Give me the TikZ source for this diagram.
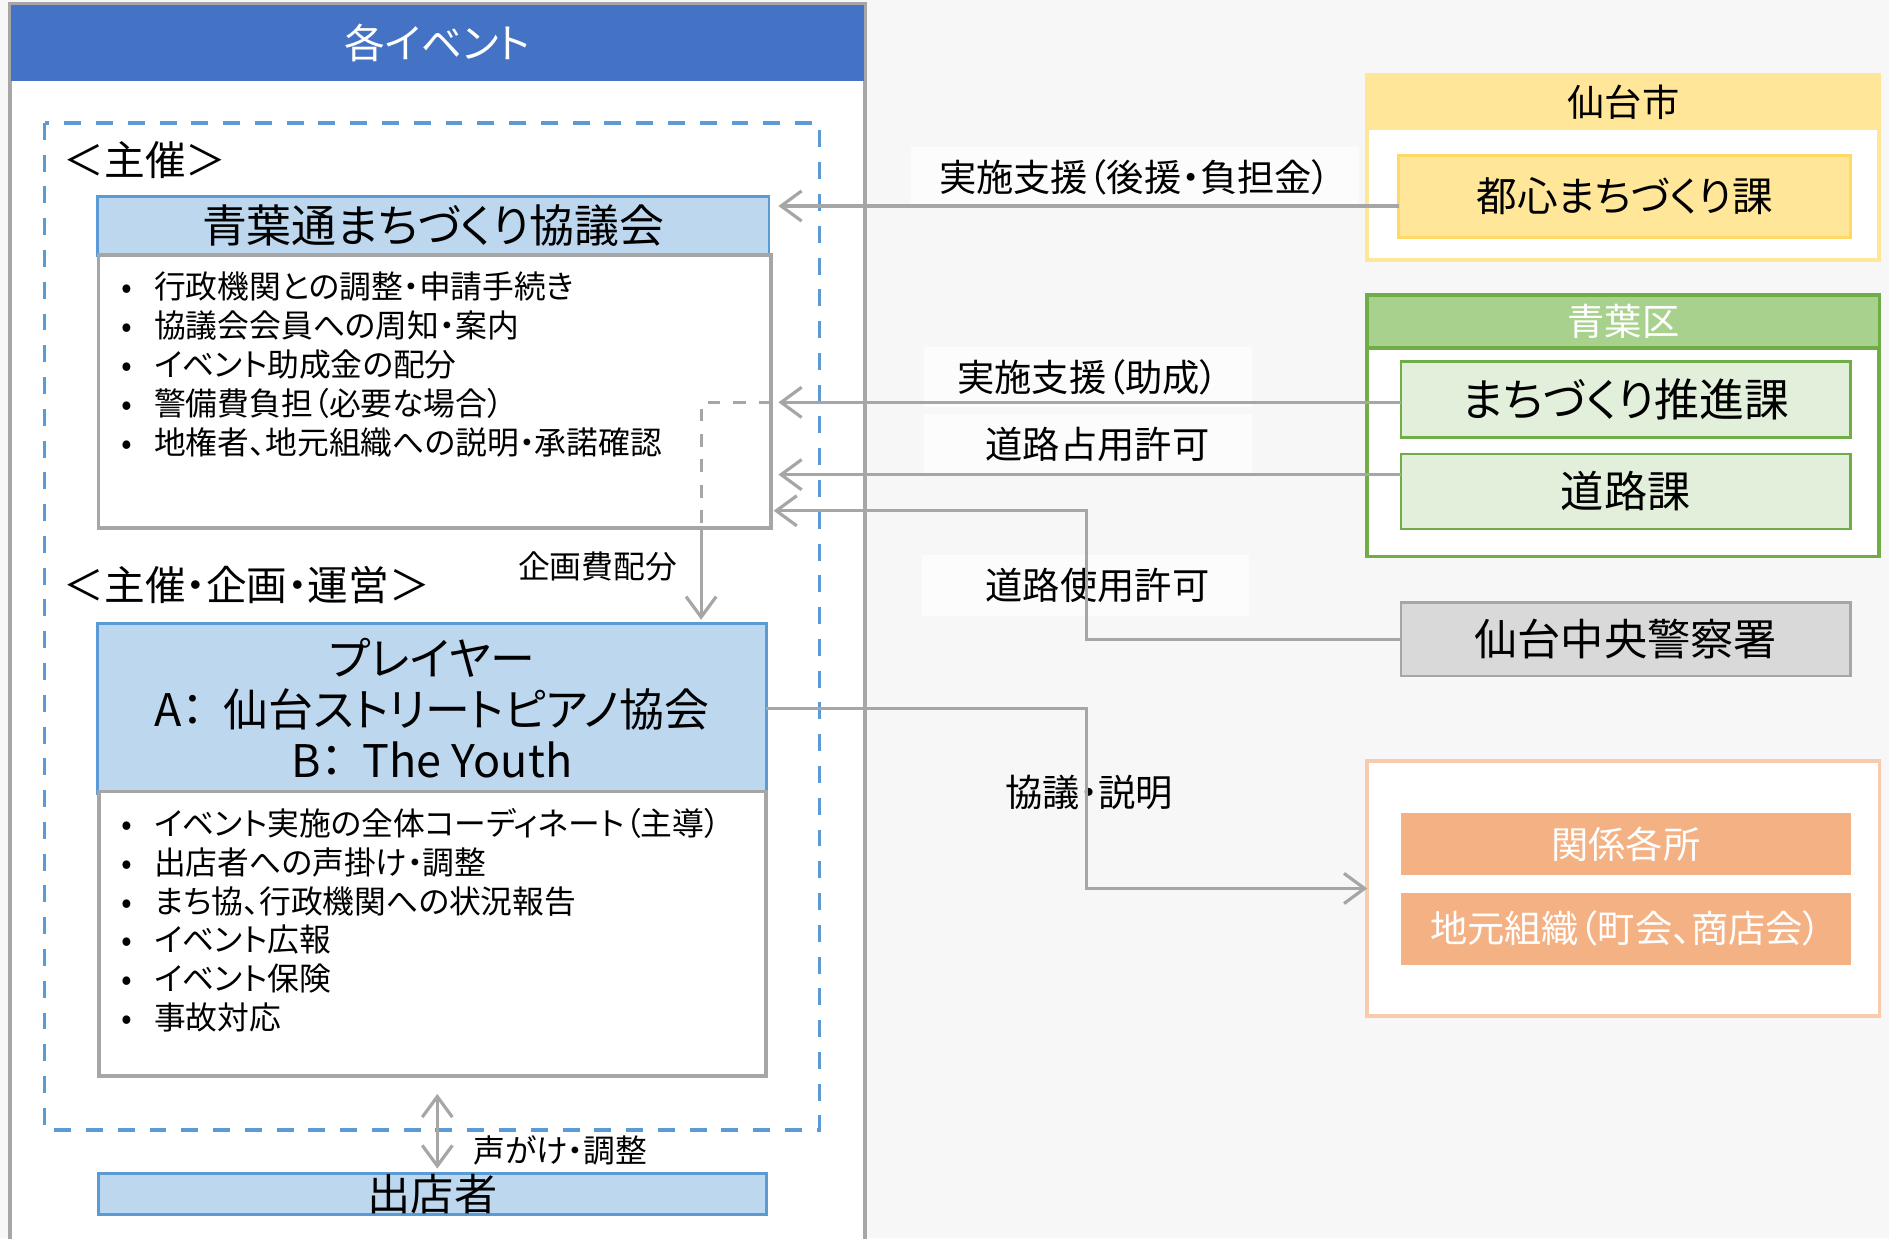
\documentclass[tikz,border=0pt]{standalone}
\usepackage{fontspec}
\setmainfont{Noto Sans CJK JP}[RawFeature=+palt]
\usepackage{xcolor}
\usetikzlibrary{arrows.meta,calc}

\definecolor{bgcol}{HTML}{F7F7F7}
\definecolor{grayline}{HTML}{A6A6A6}
\definecolor{evtblue}{HTML}{4472C4}
\definecolor{dashblue}{HTML}{5B9BD5}
\definecolor{hdrfill}{HTML}{BDD7EE}
\definecolor{cityhdr}{HTML}{FFE699}
\definecolor{cityline}{HTML}{FFD966}
\definecolor{wardline}{HTML}{70AD47}
\definecolor{wardhdr}{HTML}{A9D18E}
\definecolor{wardfill}{HTML}{E2EFDA}
\definecolor{policefill}{HTML}{D9D9D9}
\definecolor{localline}{HTML}{F8CBAD}
\definecolor{localfill}{HTML}{F4B183}
\definecolor{labelbg}{HTML}{FCFCFC}

\newcommand{\fntL}{\fontsize{10.2pt}{12pt}\selectfont}
\newcommand{\fntP}{\fontsize{10.6pt}{12pt}\selectfont}
\newcommand{\fntM}{\fontsize{9.6pt}{11.5pt}\selectfont}
\newcommand{\fntR}{\fontsize{8.8pt}{10.5pt}\selectfont}
\newcommand{\fntS}{\fontsize{7.5pt}{9.15pt}\selectfont}
\newcommand{\bul}{\makebox[0.29cm][l]{\hspace{0.02cm}•}}

\begin{document}
\begin{tikzpicture}[x=0.01cm,y=-0.01cm,
	every node/.style={inner sep=0pt,outer sep=0pt},
	hdrbox/.style={draw=dashblue,fill=hdrfill,line width=0.6pt},
	listbox/.style={draw=grayline,fill=white,line width=0.9pt},
	conn/.style={draw=grayline,line width=0.75pt},
	arrowed/.style={-{Straight Barb[length=0.17cm,width=0.25cm]}},
	bothways/.style={{Straight Barb[length=0.17cm,width=0.25cm]}-{Straight Barb[length=0.17cm,width=0.25cm]}},
	lbl/.style={fill=labelbg,minimum width=2.72cm,minimum height=0.5cm,font=\fntR}]
	\useasboundingbox (0,0) rectangle (1568,1028);
	\fill[bgcol] (0,0) rectangle (1568,1028);
	\clip (0,0) rectangle (1568,1028);

	\draw[grayline,fill=white,line width=0.9pt] (8,3) rectangle (718,1060);
	\node[fill=evtblue,minimum width=7.08cm,minimum height=0.63cm,text=white,font=\fntM] (evt) at (363,35.5) {各イベント};
	\draw[dashblue,line width=0.8pt,dash pattern=on 4pt off 3.5pt] (37,102) rectangle (680,938);

	\node[anchor=west,font=\fntM] (shusai) at (53,133) {＜主催＞};
	\node[hdrbox,minimum width=5.57cm,minimum height=0.49cm,font=\fntP] (kyogi) at (359.5,187.5) {青葉通まちづくり協議会};
	\node[listbox,minimum width=5.58cm,minimum height=2.26cm] (kyogibody) at (361,325) {};
	\node[anchor=north west,align=left,font=\fntS] (kyogilist) at (99,226) {\bul 行政機関との調整・申請手続き\\
		\bul 協議会会員への周知・案内\\
		\bul イベント助成金の配分\\
		\bul 警備費負担（必要な場合）\\
		\bul 地権者、地元組織への説明・承諾確認};

	\node[anchor=west,font=\fntM] (unei) at (53,486) {＜主催・企画・運営＞};
	\node[font=\fntS] (kikakuhi) at (496,470) {企画費配分};
	\node[hdrbox,minimum width=5.55cm,minimum height=1.41cm,align=center,font=\fntP] (player) at (358.5,588) {プレイヤー\\
		A：\hspace{0.16cm}仙台ストリートピアノ協会\\
		B：\hspace{0.16cm}The Youth};
	\node[listbox,minimum width=5.54cm,minimum height=2.36cm] (playerbody) at (359,775) {};
	\node[anchor=north west,align=left,font=\fntS] (playerlist) at (99,671) {\bul イベント実施の全体コーディネート（主導）\\
		\bul 出店者への声掛け・調整\\
		\bul まち協、行政機関への状況報告\\
		\bul イベント広報\\
		\bul イベント保険\\
		\bul 事故対応};
	\node[hdrbox,minimum width=5.54cm,minimum height=0.34cm,text height=0.3cm,text depth=0.02cm,font=\fntL] (shutten) at (359,991) {出店者};
	\node[font=\fntS] (koegake) at (465,955) {声がけ・調整};

	\draw[cityhdr,fill=white,line width=0.9pt] (1135,62) rectangle (1560,216);
	\node[fill=cityhdr,minimum width=4.25cm,minimum height=0.46cm,font=\fntR] (city) at (1347.5,85) {仙台市};
	\node[draw=cityline,fill=cityhdr,line width=0.6pt,minimum width=3.75cm,minimum height=0.68cm,font=\fntM] (toshin) at (1348.5,163) {都心まちづくり課};

	\draw[wardline,fill=white,line width=0.9pt] (1135,245) rectangle (1560,462);
	\node[draw=wardline,fill=wardhdr,line width=0.9pt,minimum width=4.25cm,minimum height=0.44cm,text=white,font=\fntR] (ward) at (1347.5,267) {青葉区};
	\node[draw=wardline,fill=wardfill,line width=0.6pt,minimum width=3.73cm,minimum height=0.63cm,font=\fntP] (suishin) at (1349.5,331.5) {まちづくり推進課};
	\node[draw=wardline,fill=wardfill,line width=0.6pt,minimum width=3.73cm,minimum height=0.62cm,font=\fntL] (doro) at (1349.5,408) {道路課};

	\node[draw=grayline,fill=policefill,line width=0.6pt,minimum width=3.73cm,minimum height=0.61cm,font=\fntL] (police) at (1349.5,530.5) {仙台中央警察署};

	\node[draw=localline,fill=white,line width=0.9pt,minimum width=4.25cm,minimum height=2.11cm] (kankei) at (1347.5,737.5) {};
	\node[fill=localfill,minimum width=3.73cm,minimum height=0.51cm,text=white,font=\fntR] (kakusho) at (1349.5,700.5) {関係各所};
	\node[fill=localfill,minimum width=3.73cm,minimum height=0.6cm,text=white,font=\fntR] (jimoto) at (1349.5,771) {地元組織（町会、商店会）};

	\node[lbl,minimum width=3.72cm] (shien) at (942,147) {実施支援（後援・負担金）};
	\node[lbl] (josei) at (903,313) {実施支援（助成）};
	\node[lbl] (senyo) at (903,369) {\hspace*{0.16cm}道路占用許可};
	\node[lbl] (shiyo) at (901,486) {\hspace*{0.2cm}道路使用許可};
	\node[font=\fntR] (setsumei) at (904,658) {協議・説明};

	\draw[conn,arrowed] ($(toshin.west)+(0,8)$) -- ($(kyogi.east |- toshin.west)+(8,8)$);
	\draw[conn,arrowed] ($(suishin.west)+(0,2.5)$) -- ($(kyogibody.east |- suishin.west)+(6,2.5)$);
	\draw[conn,arrowed] ($(doro.west)+(0,-14)$) -- ($(kyogibody.east |- doro.west)+(6,-14)$);
	\draw[conn,arrowed] (police.west) -- ++(-261,0) |- ($(kyogibody.east)+(2,99)$);
	\draw[conn,arrowed] (player.east) -- ++(266,0) |- (kankei.west);
	\coordinate (kiga) at ($(player.north)+(223.5,-3)$);
	\draw[conn,dashed] ($(kyogibody.east)+(0,9)$) -| (kyogibody.south -| kiga);
	\draw[conn,arrowed] (kyogibody.south -| kiga) -- (kiga);
	\draw[conn,bothways] ($(playerbody.south)+(4,15)$) -- ($(shutten.north)+(4,-4)$);
\end{tikzpicture}
\end{document}
